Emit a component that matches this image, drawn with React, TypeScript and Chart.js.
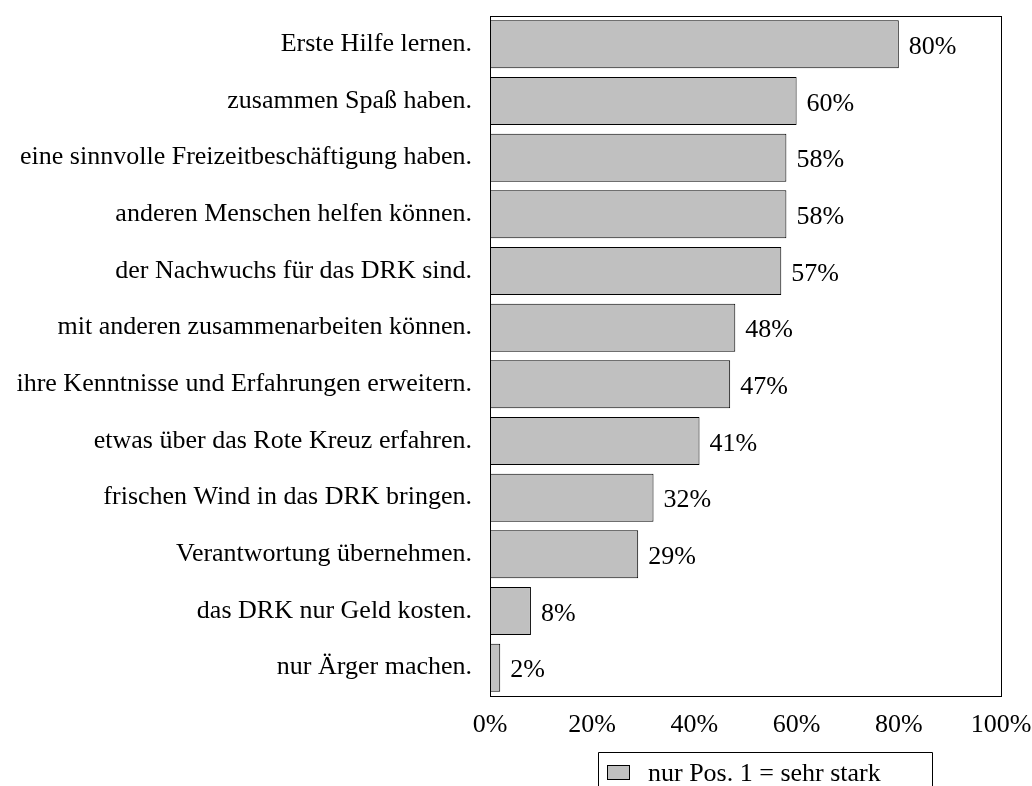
import React, { useEffect, useRef } from "react";
import { Chart, registerables } from "chart.js";

Chart.register(...registerables);

const categories = [
  "Erste Hilfe lernen.",
  "zusammen Spaß haben.",
  "eine sinnvolle Freizeitbeschäftigung haben.",
  "anderen Menschen helfen können.",
  "der Nachwuchs für das DRK sind.",
  "mit anderen zusammenarbeiten können.",
  "ihre Kenntnisse und Erfahrungen erweitern.",
  "etwas über das Rote Kreuz erfahren.",
  "frischen Wind in das DRK bringen.",
  "Verantwortung übernehmen.",
  "das DRK nur Geld kosten.",
  "nur Ärger machen.",
];
const values = [80, 60, 58, 58, 57, 48, 47, 41, 32, 29, 8, 2];
const seriesLabel = "nur Pos. 1 = sehr stark";
const xTicks = [0, 20, 40, 60, 80, 100];

const FONT = "'Liberation Serif', 'Times New Roman', serif";
const FSIZE = 26;

const framePlugin = {
  id: "frameAndLabels",
  afterDatasetsDraw(chart: any) {
    const { ctx, chartArea } = chart;
    ctx.save();
    // frame
    ctx.strokeStyle = "#000";
    ctx.lineWidth = 1;
    ctx.strokeRect(
      Math.round(chartArea.left) + 0.5,
      Math.round(chartArea.top) + 0.5,
      Math.round(chartArea.right - chartArea.left),
      Math.round(chartArea.bottom - chartArea.top)
    );
    // value labels
    const meta = chart.getDatasetMeta(0);
    ctx.fillStyle = "#000";
    ctx.font = `${FSIZE}px ${FONT}`;
    ctx.textAlign = "left";
    ctx.textBaseline = "middle";
    meta.data.forEach((bar: any, i: number) => {
      ctx.fillText(`${values[i]}%`, bar.x + 10, bar.y + 3);
    });
    // legend box
    const ds = chart.data.datasets[0];
    const bx = chartArea.left + 108;
    const by = chartArea.bottom + 56;
    const bw = 334;
    ctx.strokeStyle = "#000";
    ctx.lineWidth = 1;
    ctx.beginPath();
    ctx.moveTo(bx + 0.5, chart.height + 5);
    ctx.lineTo(bx + 0.5, by + 0.5);
    ctx.lineTo(bx + bw + 0.5, by + 0.5);
    ctx.lineTo(bx + bw + 0.5, chart.height + 5);
    ctx.stroke();
    ctx.fillStyle = ds.backgroundColor;
    ctx.fillRect(bx + 9.5, by + 13.5, 22, 14);
    ctx.strokeRect(bx + 9.5, by + 13.5, 22, 14);
    ctx.fillStyle = "#000";
    ctx.textAlign = "left";
    ctx.textBaseline = "middle";
    ctx.fillText(ds.label, bx + 50, by + 22);
    ctx.restore();
  },
};

export default function App() {
  const ref = useRef<HTMLCanvasElement>(null);
  useEffect(() => {
    if (!ref.current) return;
    const chart = new Chart(ref.current, {
      type: "bar",
      data: {
        labels: categories,
        datasets: [
          {
            label: seriesLabel,
            data: values,
            backgroundColor: "#c0c0c0",
            borderColor: "#000",
            borderWidth: 1,
            barPercentage: 0.847,
            categoryPercentage: 1,
          },
        ],
      },
      options: {
        indexAxis: "y",
        animation: false,
        responsive: true,
        maintainAspectRatio: false,
        layout: { padding: { top: 16, right: 31, left: 0, bottom: 0 } },
        plugins: {
          legend: { display: false },
          tooltip: { enabled: false },
        },
        scales: {
          x: {
            min: 0,
            max: 100,
            grid: { display: false },
            border: { display: false },
            afterFit: (s: any) => {
              s.height = 90;
              s.paddingLeft = 0;
              s.paddingRight = 0;
            },
            afterBuildTicks: (s: any) => {
              s.ticks = xTicks.map((v) => ({ value: v }));
            },
            ticks: {
              color: "#000",
              font: { family: FONT, size: FSIZE },
              padding: 6,
              maxRotation: 0,
              autoSkip: false,
              callback: (v: any) => `${v}%`,
            },
          },
          y: {
            grid: { display: false },
            border: { display: false },
            afterFit: (s: any) => {
              s.width = 490;
              s.paddingTop = 0;
              s.paddingBottom = 0;
            },
            ticks: {
              color: "#000",
              font: { family: FONT, size: FSIZE },
              padding: 10,
              autoSkip: false,
            },
          },
        },
      },
      plugins: [framePlugin],
    });
    return () => chart.destroy();
  }, []);
  return (
    <div style={{ position: "fixed", left: 0, top: 0, width: 1032, height: 786, background: "#fff" }}>
      <canvas ref={ref} />
    </div>
  );
}
